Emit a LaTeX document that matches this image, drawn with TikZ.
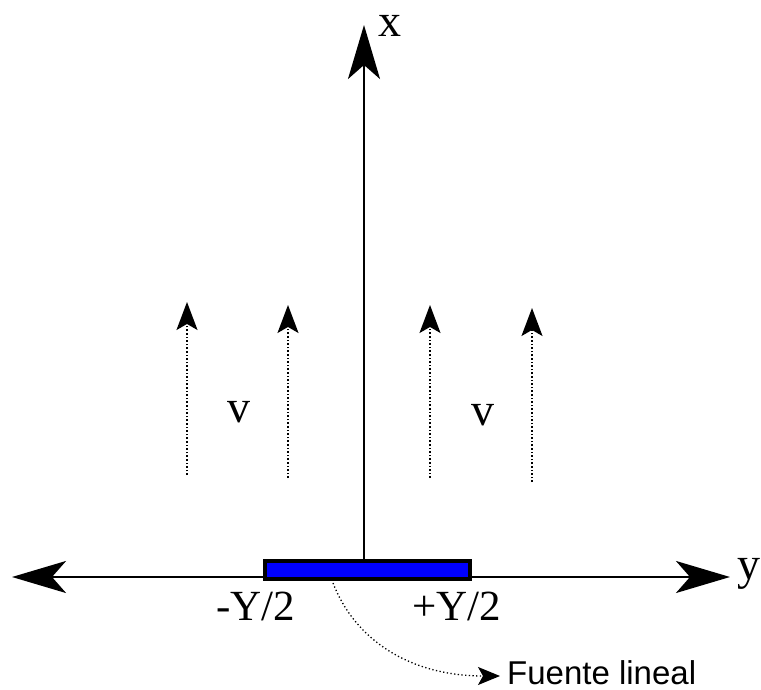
\documentclass[tikz,border=0pt]{standalone}
\usepackage{fontspec}
\setmainfont{Liberation Serif}
\newfontfamily\labelsans{Liberation Sans}
\usetikzlibrary{arrows.meta}
\tikzset{
  axistip/.tip={Stealth[length=54pt,width=32pt,inset=14pt]},
  axis/.style={line width=2.5pt, -axistip},
  flow/.style={line width=1.6pt, dash pattern=on 1.6pt off 2pt, -{Stealth[length=28pt,width=21pt,inset=6pt]}},
  lead/.style={line width=1.3pt, dash pattern=on 1.3pt off 2.4pt, -{Stealth[length=22pt,width=18pt,inset=5pt]}},
  serlab/.style={inner sep=0pt, font=\fontsize{43}{46}\selectfont},
  letlab/.style={inner sep=0pt, font=\fontsize{46}{50}\selectfont},
  source/.style={draw=black, line width=4pt, fill=blue, minimum width=205pt, minimum height=18pt, inner sep=0pt}
}
\begin{document}
\begin{tikzpicture}[x=1pt,y=-1pt]
\useasboundingbox (0,0) rectangle (761,690);
% axes coordinates
\coordinate (yl) at (12,577);
\coordinate (yr) at (730,577);
\coordinate (xtip) at (364,25);
% horizontal axis (double-headed)
\draw[line width=2.5pt, axistip-axistip] (yl) -- (yr);
% source bar
\node[source] (bar) at (367,570) {};
% vertical axis
\draw[axis] (xtip |- bar.north) -- (xtip);
% axis labels
\node[letlab] (xlab) at (390,26) {x};
\node[letlab, anchor=west] (ylab) at (737,574) {y};
% flow arrows
\coordinate (a1s) at (187,475); \coordinate (a1e) at (187,302);
\coordinate (a2s) at (288,478); \coordinate (a2e) at (288,305);
\coordinate (a3s) at (430,478); \coordinate (a3e) at (430,305);
\coordinate (a4s) at (532,482); \coordinate (a4e) at (532,308);
\draw[flow] (a1s) -- (a1e);
\draw[flow] (a2s) -- (a2e);
\draw[flow] (a3s) -- (a3e);
\draw[flow] (a4s) -- (a4e);
\node[letlab] (v1) at (239,412) {v};
\node[letlab] (v2) at (483,415) {v};
% bar end labels
\node[serlab] (lm) at (256,606) {-Y/2};
\node[serlab] (lp) at (457,606) {+Y/2};
% leader to label
\coordinate (lstart) at (333,583);
\coordinate (ltip) at (500,676);
\node[inner sep=0pt, anchor=base west, font=\labelsans\fontsize{33}{36}\selectfont] (fl) at (507,684) {Fuente lineal};
\draw[lead] (lstart) .. controls (355,640) and (410,676) .. (ltip);
\end{tikzpicture}
\end{document}
